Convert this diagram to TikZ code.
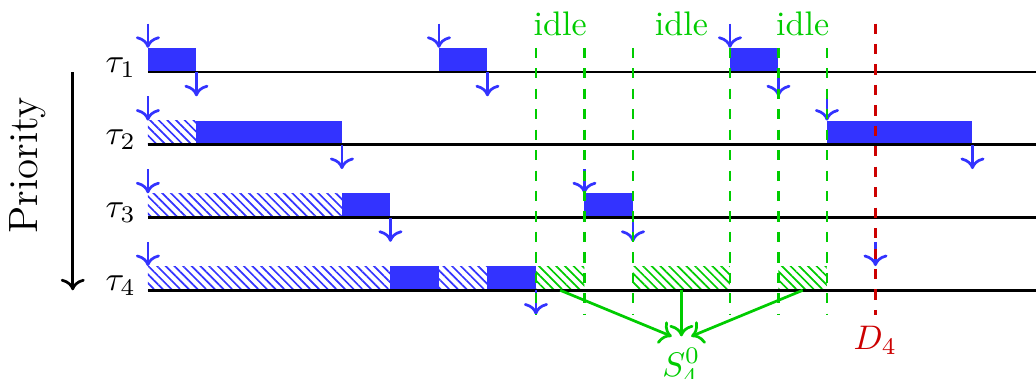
\documentclass[tikz,border=0pt]{standalone}
\usepackage{amsmath}
\usepackage{amssymb}
\usepackage{tikz}
\usetikzlibrary{arrows.meta,patterns.meta,calc}
\usepackage{xcolor}

\colorlet{jobblue}{blue!80}
\colorlet{idlegreen}{green!80!black}
\colorlet{deadred}{red!80!black}

\begin{document}
\begin{tikzpicture}[x=0.5cm,y=0.5cm,
    job/.style={fill=jobblue},
    blocked/.style={pattern={Lines[angle=-45,distance=1.8pt,line width=0.5pt]},pattern color=jobblue},
    slack/.style={pattern={Lines[angle=-45,distance=1.8pt,line width=0.5pt]},pattern color=idlegreen},
    rel/.style={->,thick,jobblue},
    idleline/.style={thick,dashed,idlegreen}]
      \useasboundingbox (-3.05,-6.31) rectangle (18.31,1.485);

      % Drawing the priority axis
      \node[rotate=90] (prio) at (-2.47,-1.92) {\large Priority};
      \draw[thick,->] (-1.55,0) -- (-1.55,-4.5);

      % Executions and interferences
      \fill[job] (0,0) rectangle (1,0.5);
      \fill[job] (6,0) rectangle (7,0.5);
      \fill[job] (12,0) rectangle (13,0.5);
      \fill[blocked] (0,-1.5) rectangle (1,-1);
      \fill[job] (1,-1.5) rectangle (4,-1);
      \fill[job] (14,-1.5) rectangle (17,-1);
      \fill[blocked] (0,-3) rectangle (4,-2.5);
      \fill[job] (4,-3) rectangle (5,-2.5);
      \fill[job] (9,-3) rectangle (10,-2.5);
      \fill[blocked] (0,-4.5) rectangle (5,-4);
      \fill[job] (5,-4.5) rectangle (6,-4);
      \fill[blocked] (6,-4.5) rectangle (7,-4);
      \fill[job] (7,-4.5) rectangle (8,-4);
      \fill[slack] (8,-4.5) rectangle (9,-4);
      \fill[slack] (10,-4.5) rectangle (12,-4);
      \fill[slack] (13,-4.5) rectangle (14,-4);

      % Drawing the time lines
      \foreach \i in {1,...,4} {
        \draw[thick] (0,{-1.5*(\i-1)}) -- (18.31,{-1.5*(\i-1)});
        \node[anchor=base east] (tau\i) at (0,{-1.5*(\i-1)}) {$\tau_{\i}$};
      }

      % Releases
      \foreach \t/\y in {0/0,6/0,12/0,0/-1.5,14/-1.5,0/-3,9/-3,0/-4.5,15/-4.5}
        \draw[rel] (\t,\y+1) -- (\t,\y+0.5);

      % Completions
      \foreach \t/\y in {1/0,7/0,13/0,4/-1.5,17/-1.5,5/-3,10/-3,8/-4.5}
        \draw[rel] (\t,\y) -- (\t,\y-0.5);

      % Idle intervals
      \foreach \t in {8,9,10,12,13,14}
        \draw[idleline] (\t,0.5) -- (\t,-5);
      \node[above,idlegreen] (idle1) at (8.5,0.5) {idle};
      \node[above,idlegreen] (idle2) at (11,0.5) {idle};
      \node[above,idlegreen] (idle3) at (13.5,0.5) {idle};

      % Deadline
      \draw[thick,dashed,deadred] (15,1) -- (15,-5);
      \node[below,deadred] (D) at (15,-5) {$D_4$};

      % Slack of tau_4
      \coordinate (s1) at (8.5,-4.5);
      \coordinate (s2) at (11,-4.5);
      \coordinate (s3) at (13.5,-4.5);
      \node[below,idlegreen] (S) at (11,-5.45) {$S_4^0$};
      \draw[thick,idlegreen,->] (s1) -- ($(S.north)+(-0.2,0)$);
      \draw[thick,idlegreen,->] (s2) -- (S.north);
      \draw[thick,idlegreen,->] (s3) -- ($(S.north)+(0.2,0)$);
    \end{tikzpicture}
\end{document}
